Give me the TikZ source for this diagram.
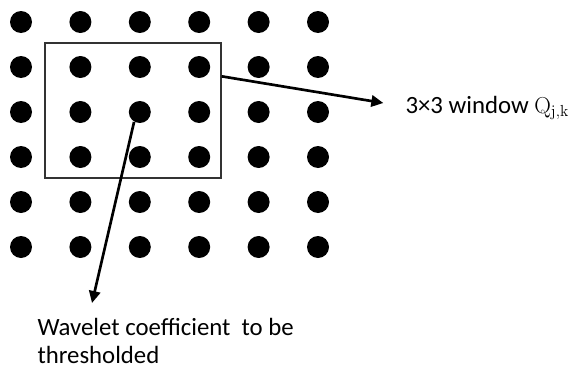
\documentclass[tikz,border=0pt]{standalone}
\usepackage[no-math]{fontspec}
\setmainfont{Carlito}
\usetikzlibrary{arrows.meta}

\tikzset{every picture/.style={line width=0.75pt}}
\tikzset{
  dot/.style={circle,fill=black,inner sep=0pt,minimum size=16.5pt},
  winbox/.style={draw=black!80,line width=1pt,inner sep=0pt,minimum width=132pt,minimum height=101.25pt},
  pointer/.style={line width=2pt,-{Triangle[length=9pt,width=8.5pt]}},
  txt/.style={inner sep=0.75pt,font=\fontsize{18.6}{20.5}\selectfont}
}

\begin{document}
\begin{tikzpicture}[x=0.75pt,y=0.75pt,yscale=-1,xscale=1]
				\useasboundingbox (0,0) rectangle (571,371);
				
				%Grid of coefficients
				\foreach \c in {0,...,5}
				  \foreach \r in {0,...,5}
				    \node [dot] (d-\c-\r) at ({21+59.4*\c},{22+45*\r}) {};
				
				%Window
				\node [winbox] (win) at (133,110.5) {};
				
				% Text Node
				\node [txt,anchor=base west] (lbl) at (404,113) {3×3 window $\mathrm{Q}_{\mathrm{j,k}}$};
				% Text Node
				\node [txt,anchor=north west,align=left] (coef) at (36,317) {Wavelet coefficient\ \ to be\\thresholded};
				
				%Pointers
				\coordinate (tip) at (92,303);
				\draw [pointer] ([yshift=25.5pt]win.north east) -- ([xshift=-15.5pt,yshift=-7.5pt]lbl.base west);
				\draw [pointer] (d-2-2.240) -- (tip);
				
\end{tikzpicture}
\end{document}
